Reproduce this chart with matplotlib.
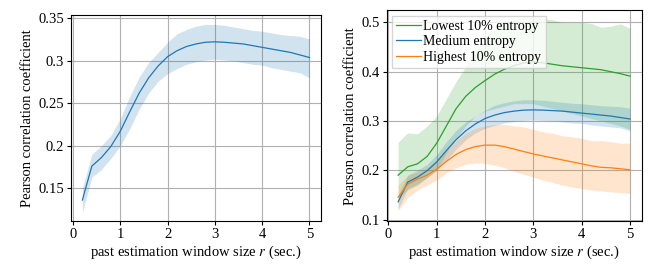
import matplotlib
matplotlib.use("Agg")
import matplotlib.pyplot as plt
import numpy as np

plt.rcParams['font.family'] = ['Liberation Serif', 'DejaVu Serif']
plt.rcParams['mathtext.fontset'] = 'stix'
plt.rcParams['font.size'] = 10.5

r = [0.2, 0.4, 0.6, 0.8, 1.0, 1.2, 1.4, 1.6, 1.8, 2.0, 2.2, 2.4, 2.6, 2.8, 3.0,
     3.2, 3.4, 3.6, 3.8, 4.0, 4.2, 4.4, 4.6, 4.8, 5.0]

all_mean = [0.136, 0.176, 0.186, 0.199, 0.217, 0.240, 0.262, 0.280, 0.294, 0.305, 0.312, 0.317, 0.320,
            0.322, 0.3225, 0.322, 0.321, 0.320, 0.318, 0.316, 0.314, 0.312, 0.310, 0.307, 0.304]
all_lo = [0.121, 0.163, 0.172, 0.185, 0.200, 0.220, 0.243, 0.262, 0.276, 0.285, 0.291, 0.296, 0.299,
          0.301, 0.302, 0.301, 0.300, 0.298, 0.296, 0.295, 0.292, 0.290, 0.288, 0.286, 0.280]
all_hi = [0.150, 0.190, 0.200, 0.212, 0.232, 0.258, 0.281, 0.298, 0.310, 0.322, 0.332, 0.337, 0.341,
          0.343, 0.343, 0.342, 0.340, 0.338, 0.336, 0.335, 0.333, 0.331, 0.330, 0.329, 0.326]

low_mean = [0.190, 0.207, 0.213, 0.228, 0.255, 0.290, 0.325, 0.350, 0.368, 0.382, 0.395, 0.405, 0.412,
            0.418, 0.420, 0.418, 0.415, 0.412, 0.410, 0.408, 0.406, 0.404, 0.400, 0.396, 0.391]
low_lo = [0.145, 0.160, 0.170, 0.185, 0.200, 0.235, 0.265, 0.290, 0.310, 0.320, 0.325, 0.330, 0.335,
          0.335, 0.335, 0.330, 0.325, 0.320, 0.315, 0.310, 0.305, 0.300, 0.295, 0.290, 0.283]
low_hi = [0.257, 0.276, 0.274, 0.290, 0.310, 0.345, 0.380, 0.410, 0.440, 0.470, 0.490, 0.500, 0.505,
          0.510, 0.510, 0.508, 0.505, 0.500, 0.500, 0.500, 0.498, 0.490, 0.492, 0.497, 0.488]

high_mean = [0.145, 0.172, 0.182, 0.190, 0.202, 0.218, 0.232, 0.242, 0.248, 0.251, 0.251, 0.248, 0.243,
             0.238, 0.233, 0.229, 0.225, 0.221, 0.217, 0.213, 0.209, 0.206, 0.205, 0.203, 0.201]
high_lo = [0.118, 0.145, 0.160, 0.170, 0.180, 0.195, 0.205, 0.212, 0.215, 0.214, 0.210, 0.205, 0.198,
           0.192, 0.186, 0.180, 0.175, 0.170, 0.166, 0.163, 0.160, 0.158, 0.156, 0.155, 0.153]
high_hi = [0.170, 0.190, 0.195, 0.205, 0.220, 0.240, 0.260, 0.275, 0.285, 0.290, 0.293, 0.293, 0.290,
           0.288, 0.283, 0.278, 0.275, 0.270, 0.268, 0.265, 0.260, 0.260, 0.258, 0.255, 0.255]

labels = ['Lowest 10% entropy', 'Medium entropy', 'Highest 10% entropy']
C_GREEN, C_BLUE, C_ORANGE = '#2ca02c', '#1f77b4', '#ff7f0e'

fig = plt.figure(figsize=(6.54, 2.65), dpi=100)
ax1 = fig.add_axes([0.1086, 0.165, 0.382, 0.778])
ax2 = fig.add_axes([0.591, 0.165, 0.390, 0.797])

xlabel = r'past estimation window size $r$ (sec.)'

ax1.fill_between(r, all_lo, all_hi, color=C_BLUE, alpha=0.2, linewidth=0)
ax1.plot(r, all_mean, color=C_BLUE, lw=0.9)
ax1.set_yticks([0.15, 0.2, 0.25, 0.3, 0.35])
ax1.set_yticklabels(['0.15', '0.2', '0.25', '0.3', '0.35'])
ax1.set_ylim(0.111, 0.354)

ax2.fill_between(r, low_lo, low_hi, color=C_GREEN, alpha=0.2, linewidth=0)
ax2.fill_between(r, all_lo, all_hi, color=C_BLUE, alpha=0.2, linewidth=0)
ax2.fill_between(r, high_lo, high_hi, color=C_ORANGE, alpha=0.2, linewidth=0)
ax2.plot(r, low_mean, color=C_GREEN, lw=0.9, label=labels[0])
ax2.plot(r, all_mean, color=C_BLUE, lw=0.9, label=labels[1])
ax2.plot(r, high_mean, color=C_ORANGE, lw=0.9, label=labels[2])
ax2.set_yticks([0.1, 0.2, 0.3, 0.4, 0.5])
ax2.set_yticklabels(['0.1', '0.2', '0.3', '0.4', '0.5'])
ax2.set_ylim(0.0965, 0.525)
ax2.legend(loc='upper left', frameon=True, fancybox=False, framealpha=0.8,
           edgecolor='#cccccc', handlelength=1.8, borderpad=0.3, labelspacing=0.18,
           handletextpad=0.15, borderaxespad=0.4, fontsize=10)

for ax in (ax1, ax2):
    ax.set_xlim(-0.04, 5.24)
    ax.set_xticks([0, 1, 2, 3, 4, 5])
    ax.grid(True, color='#b0b0b0', lw=0.8)
    ax.set_axisbelow(True)
    ax.set_xlabel(xlabel, labelpad=2)
    ax.set_ylabel('Pearson correlation coefficient', labelpad=3)
    ax.tick_params(length=3, width=0.8, pad=2)
    for s in ax.spines.values():
        s.set_linewidth(0.8)

fig.savefig('out.png', dpi=100)
